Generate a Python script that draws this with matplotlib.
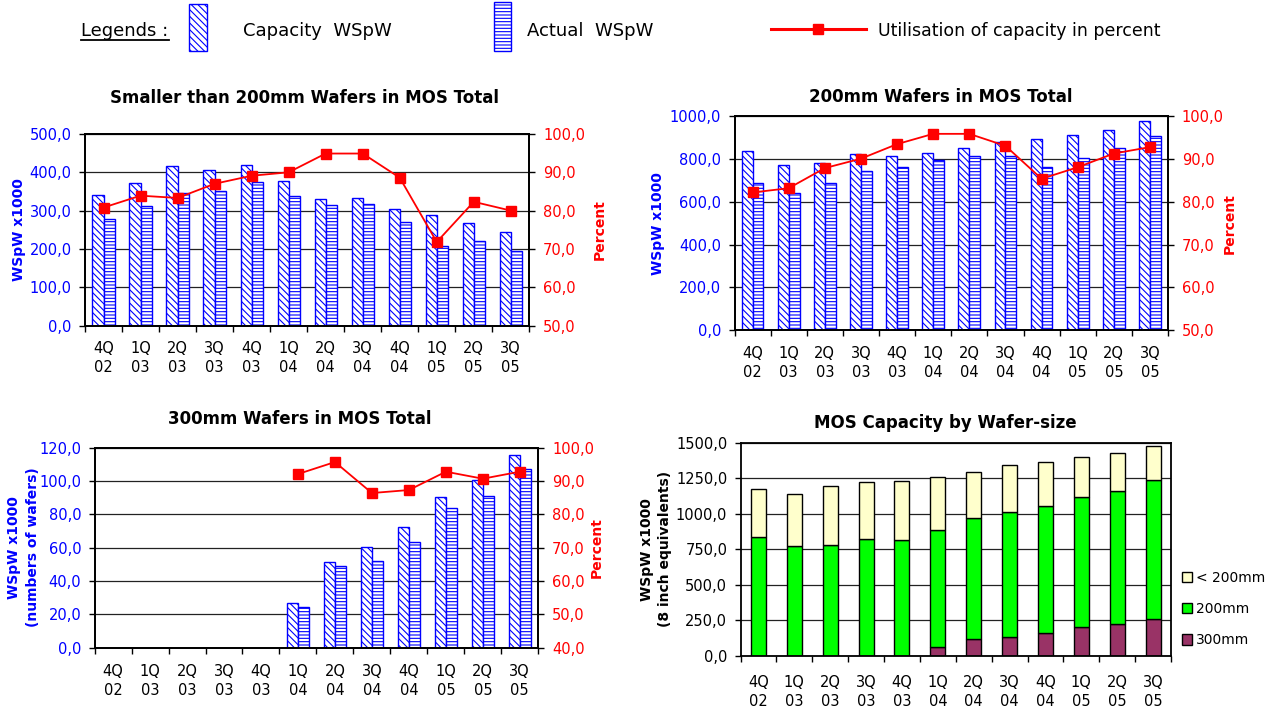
import numpy as np
import matplotlib.pyplot as plt
from matplotlib.patches import Rectangle
from matplotlib.lines import Line2D
from matplotlib.ticker import FuncFormatter

quarters = ["4Q\n02", "1Q\n03", "2Q\n03", "3Q\n03", "4Q\n03", "1Q\n04",
            "2Q\n04", "3Q\n04", "4Q\n04", "1Q\n05", "2Q\n05", "3Q\n05"]

# smaller than 200mm
small_capacity = [342, 372, 416, 405, 418, 377, 331, 333, 305, 288, 267, 243]
small_actual = [278, 313, 347, 352, 374, 339, 315, 316, 270, 207, 221, 195]
small_util = [80.8, 83.9, 83.3, 87.0, 89.1, 90.0, 94.9, 94.9, 88.6, 71.8, 82.3, 80.0]

# 200mm
w200_capacity = [836, 771, 782, 824, 816, 829, 850, 878, 894, 914, 935, 980]
w200_actual = [688, 643, 687, 743, 765, 797, 815, 815, 765, 805, 852, 910]
w200_util = [82.2, 83.2, 87.9, 90.1, 93.5, 95.9, 95.9, 93.1, 85.4, 88.1, 91.3, 92.8]

# 300mm (no data before 1Q04)
nan = np.nan
w300_capacity = [nan, nan, nan, nan, nan, 26.6, 51.2, 60.4, 72.6, 90.6, 100.4, 115.4]
w300_actual = [nan, nan, nan, nan, nan, 24.4, 49.2, 52.0, 63.6, 84.0, 91.0, 107.0]
w300_util = [nan, nan, nan, nan, nan, 92.1, 95.7, 86.4, 87.3, 92.8, 90.7, 92.8]

# capacity by wafer size, 8 inch equivalents
stack_300 = [0, 0, 0, 0, 0, 59, 115, 134, 162, 202, 223, 261]
stack_200 = [839, 774, 781, 825, 816, 827, 854, 877, 894, 915, 939, 978]
stack_small = [339, 366, 413, 402, 418, 377, 327, 334, 308, 284, 265, 242]

BLUE = "#0000FF"
RED = "#FF0000"
CAP_HATCH = "\\\\\\\\\\"
ACT_HATCH = "-----"

plt.rcParams["hatch.linewidth"] = 0.8
plt.rcParams["font.family"] = "DejaVu Sans"

W, H = 1275, 713
fig = plt.figure(figsize=(W / 100, H / 100), dpi=100)


def px_rect(left, top, right, bottom):
    return [left / W, 1 - bottom / H, (right - left) / W, (bottom - top) / H]


def fx(px):
    return px / W


def fy(py):
    return 1 - py / H


comma = FuncFormatter(lambda v, p: f"{v:.1f}".replace(".", ","))
x = np.arange(len(quarters))


def setup_xaxis(ax, pad):
    ax.set_xlim(-0.5, len(quarters) - 0.5)
    ax.set_xticks(np.arange(-0.5, len(quarters), 1))
    ax.set_xticklabels([])
    ax.set_xticks(x, minor=True)
    ax.set_xticklabels(quarters, minor=True, fontsize=10.5, linespacing=1.3)
    ax.tick_params(axis="x", which="major", length=4, width=1.0, direction="out")
    ax.tick_params(axis="x", which="minor", length=0, pad=pad)
    for s in ax.spines.values():
        s.set_linewidth(1.3)


def combo(rect, title, tpos, cap, act, util, ymax, ystep, pmin, ylabel,
          lx, px, ycenter, xpad):
    ax = fig.add_axes(rect)
    ax.bar(x - 0.15, cap, 0.3, color="white", edgecolor=BLUE, hatch=CAP_HATCH,
           linewidth=1.0)
    ax.bar(x + 0.15, act, 0.3, color="white", edgecolor=BLUE, hatch=ACT_HATCH,
           linewidth=1.0)
    ax.set_ylim(0, ymax)
    ax.set_yticks(np.arange(0, ymax + 0.1, ystep))
    ax.yaxis.set_major_formatter(comma)
    ax.yaxis.grid(True, color="#222222", linewidth=0.9)
    ax.set_axisbelow(True)
    ax.tick_params(axis="y", length=4, width=1.0, pad=5.5, labelsize=10.5,
                   labelcolor=BLUE)
    setup_xaxis(ax, xpad)
    ax.set_ylabel(ylabel, color=BLUE, fontsize=10, fontweight="bold",
                  va="center", linespacing=1.4)
    ax.yaxis.set_label_coords(fx(lx), fy(ycenter), transform=fig.transFigure)
    fig.text(fx(tpos[0]), fy(tpos[1]), title, ha="center", va="center",
             fontsize=12, fontweight="bold")

    ax2 = ax.twinx()
    ax2.plot(x, util, color=RED, linewidth=1.3, marker="s", markersize=7,
             markerfacecolor=RED, markeredgecolor=RED)
    ax2.set_ylim(pmin, 100)
    ax2.set_yticks(np.arange(pmin, 100.1, 10))
    ax2.yaxis.set_major_formatter(comma)
    ax2.tick_params(axis="y", length=4, width=1.0, pad=6, labelsize=10.5,
                    labelcolor=RED)
    ax2.set_ylabel("Percent", color=RED, fontsize=10, fontweight="bold",
                   va="center")
    ax2.yaxis.set_label_coords(fx(px), fy(ycenter), transform=fig.transFigure)
    for s in ax2.spines.values():
        s.set_linewidth(1.3)
    return ax


combo(px_rect(85, 134, 529.3, 325.5), "Smaller than 200mm Wafers in MOS Total",
      (304.5, 98), small_capacity, small_actual, small_util, 500, 100, 50,
      "WSpW x1000", 18.8, 599.5, 229.7, 11.5)

combo(px_rect(734.5, 116.3, 1168, 330.3), "200mm Wafers in MOS Total",
      (940.5, 97.3), w200_capacity, w200_actual, w200_util, 1000, 200, 50,
      "WSpW x1000", 658.2, 1230, 223.3, 11.5)

combo(px_rect(94.6, 447.7, 538.3, 647.7), "300mm Wafers in MOS Total",
      (299.7, 419), w300_capacity, w300_actual, w300_util, 120, 20, 40,
      "WSpW x1000\n(numbers of wafers)", 23.4, 596.7, 547.5, 12)

# stacked chart
ax4 = fig.add_axes(px_rect(740.5, 443, 1171, 655.7))
b300 = ax4.bar(x, stack_300, 0.42, color="#993366", edgecolor="black",
               linewidth=1.0)
b200 = ax4.bar(x, stack_200, 0.42, bottom=stack_300, color="#00FF00",
               edgecolor="black", linewidth=1.0)
bottom_small = np.array(stack_300) + np.array(stack_200)
bsm = ax4.bar(x, stack_small, 0.42, bottom=bottom_small, color="#FFFFCC",
              edgecolor="black", linewidth=1.0)
ax4.set_ylim(0, 1500)
ax4.set_yticks(np.arange(0, 1501, 250))
ax4.yaxis.set_major_formatter(comma)
ax4.yaxis.grid(True, color="#222222", linewidth=0.9)
ax4.set_axisbelow(True)
ax4.tick_params(axis="y", length=4, width=1.0, pad=5.5, labelsize=10.5,
                labelcolor="black")
setup_xaxis(ax4, 14)
ax4.set_ylabel("WSpW x1000\n(8 inch equivalents)", fontsize=10,
               fontweight="bold", va="center", linespacing=1.4)
ax4.yaxis.set_label_coords(fx(655.7), fy(549.3), transform=fig.transFigure)
fig.text(fx(945.4), fy(422.7), "MOS Capacity by Wafer-size", ha="center",
         va="center", fontsize=12, fontweight="bold")
ax4.legend([bsm, b200, b300], ["< 200mm", "200mm", "300mm"],
           loc="center left", bbox_to_anchor=(fx(1181.7), fy(609)),
           bbox_transform=fig.transFigure, frameon=False, fontsize=10,
           handlelength=0.75, handleheight=0.75, handletextpad=0.3,
           labelspacing=1.25, borderpad=0, borderaxespad=0)

# top legend
base = fy(36.5)
fig.text(fx(80.7), base, "Legends :", fontsize=13, va="baseline")
fig.add_artist(Line2D([fx(80.7), fx(169)], [fy(39.5), fy(39.5)],
                      color="black", linewidth=1.3))
fig.add_artist(Rectangle((fx(188.7), fy(51)), 18 / W, 47 / H,
                         transform=fig.transFigure, facecolor="white",
                         edgecolor=BLUE, hatch=CAP_HATCH, linewidth=1.0))
fig.text(fx(242.7), base, "Capacity  WSpW", fontsize=13, va="baseline")
fig.add_artist(Rectangle((fx(494), fy(51)), 17 / W, 49 / H,
                         transform=fig.transFigure, facecolor="white",
                         edgecolor=BLUE, hatch=ACT_HATCH, linewidth=1.0))
fig.text(fx(527), base, "Actual  WSpW", fontsize=13, va="baseline")
fig.add_artist(Line2D([fx(771), fx(866)], [fy(28.5), fy(28.5)],
                      color=RED, linewidth=2.2))
fig.add_artist(Line2D([fx(818)], [fy(28.5)], color=RED, marker="s",
                      markersize=7.5, linestyle="none"))
fig.text(fx(878), base, "Utilisation of capacity in percent", fontsize=12.5,
         va="baseline")

plt.savefig("out.png", dpi=100)
